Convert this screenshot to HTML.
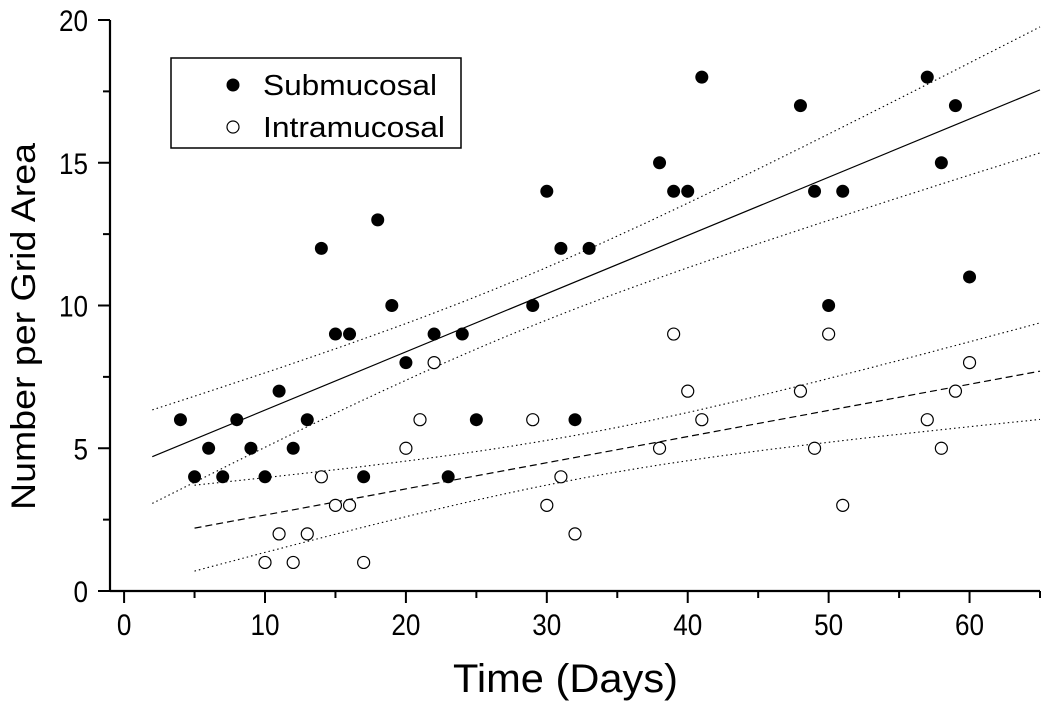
<!DOCTYPE html>
<html><head><meta charset="utf-8">
<style>
html,body{margin:0;padding:0;background:#fff;}
svg{display:block;font-family:"Liberation Sans",Arial,sans-serif;}
</style></head>
<body>
<svg id="chart" width="1050" height="702" viewBox="0 0 1050 702" xmlns="http://www.w3.org/2000/svg">
<g id="marks"></g>
<g id="axes"></g>
<rect x="171" y="58" width="290" height="90" fill="#fff" stroke="#000" stroke-width="1.5"/>
<circle cx="233" cy="85" r="6.5" fill="#000"/>
<text x="263" y="95" font-size="29" textLength="174" lengthAdjust="spacingAndGlyphs">Submucosal</text>
<circle cx="233" cy="127" r="6" fill="#fff" stroke="#000" stroke-width="1.2"/>
<text x="263" y="137" font-size="29" textLength="182" lengthAdjust="spacingAndGlyphs">Intramucosal</text>
<text x="453" y="692" font-size="40" textLength="225" lengthAdjust="spacingAndGlyphs">Time (Days)</text>
<text transform="translate(35,510) rotate(-90)" font-size="34" textLength="367" lengthAdjust="spacingAndGlyphs">Number per Grid Area</text>
</svg>
<script>
const subX = [4,5,6,7,8,9,10,11,12,13,14,15,16,17,18,19,20,22,23,24,25,29,30,31,32,33,38,39,40,41,48,49,50,51,57,58,59,60];
const subY = [6,4,5,4,6,5,4,7,5,6,12,9,9,4,13,10,8,9,4,9,6,10,14,12,6,12,15,14,14,18,17,14,10,14,18,15,17,11];
const intX = [10,11,12,13,14,15,16,17,20,21,22,29,30,31,32,38,39,40,41,48,49,50,51,57,58,59,60];
const intY = [1,2,1,2,4,3,3,1,5,6,8,6,3,4,2,5,9,7,6,7,5,9,3,6,5,7,8];
const xTicks = [0,10,20,30,40,50,60];
const yTicks = [0,5,10,15,20];
const fitRangeSub = [2,65];
const fitRangeInt = [5,65];

const NS = "http://www.w3.org/2000/svg";
const X0 = -1, X1 = 65, Y0 = 0, Y1 = 20;
const L = 110, R = 1040, B = 591, T = 20;
function sx(v){ return L + (v - X0) / (X1 - X0) * (R - L); }
function sy(v){ return B - (v - Y0) / (Y1 - Y0) * (B - T); }
function mk(tag, attrs, parent){
  const el = document.createElementNS(NS, tag);
  for (const k in attrs) el.setAttribute(k, attrs[k]);
  parent.appendChild(el); return el;
}
const marks = document.getElementById('marks');
const axes = document.getElementById('axes');

function tval(df){
  const tbl = {1:12.706,2:4.303,3:3.182,4:2.776,5:2.571,10:2.228,20:2.086,25:2.060,30:2.042,40:2.021,60:2.000};
  const keys = Object.keys(tbl).map(Number);
  let best = keys[0]; for (const k of keys) if (k <= df) best = k;
  return tbl[best];
}
function fit(xs, ys){
  const n = xs.length;
  const mx = xs.reduce((a,b)=>a+b,0)/n, my = ys.reduce((a,b)=>a+b,0)/n;
  let sxx=0, sxy=0;
  for (let i=0;i<n;i++){ sxx += (xs[i]-mx)**2; sxy += (xs[i]-mx)*(ys[i]-my); }
  const b = sxy/sxx, a = my - b*mx;
  let sse=0; for (let i=0;i<n;i++) sse += (ys[i]-a-b*xs[i])**2;
  const s = Math.sqrt(sse/(n-2));
  return {a,b,s,n,mx,sxx,t:tval(n-2)};
}
function drawFit(xs, ys, range, dash, name){
  const f = fit(xs, ys);
  const l = mk('line', {x1:sx(range[0]), y1:sy(f.a+f.b*range[0]), x2:sx(range[1]), y2:sy(f.a+f.b*range[1]), stroke:'#000', 'stroke-width':1.2, 'stroke-dasharray':dash}, marks);
  
  
  [1,-1].forEach(sg=>{
    let d = '';
    for (let k=0;k<=60;k++){
      const x = range[0] + (range[1]-range[0])*k/60;
      const se = f.s*Math.sqrt(1/f.n + (x-f.mx)**2/f.sxx);
      const y = f.a + f.b*x + sg*f.t*se;
      d += (k? 'L':'M') + sx(x).toFixed(1) + ',' + sy(y).toFixed(1);
    }
    const p = mk('path', {d, fill:'none', stroke:'#000', 'stroke-width':1.1, 'stroke-dasharray':'1.5,3'}, marks);
    
    
  });
}
drawFit(subX, subY, fitRangeSub, 'none', 'submucosal');
drawFit(intX, intY, fitRangeInt, '7,4', 'intramucosal');

subX.forEach((x,i)=>{
  const c = mk('circle', {cx:sx(x), cy:sy(subY[i]), r:6.5, fill:'#000'}, marks);
  
  
});
intX.forEach((x,i)=>{
  const c = mk('circle', {cx:sx(x), cy:sy(intY[i]), r:6, fill:'#fff', stroke:'#000', 'stroke-width':1.2}, marks);
  
  
});

const xa = mk('line', {x1:L, y1:B, x2:R, y2:B, stroke:'#000', 'stroke-width':2.2}, axes);


const ya = mk('line', {x1:L, y1:B+1, x2:L, y2:T, stroke:'#000', 'stroke-width':2.2}, axes);


for (let v=0; v<=65; v+=5){
  const major = v % 10 === 0;
  const t = mk('line', {x1:sx(v), y1:B, x2:sx(v), y2:B+(major?12:7), stroke:'#000', 'stroke-width':2}, axes);
  
  
}
xTicks.forEach(v=>{
  const t = mk('text', {transform:'translate(' + sx(v) + ',' + (B+44) + ') scale(0.87,1)', 'font-size':30, 'text-anchor':'middle'}, axes);
  t.textContent = v;
  
  
});
for (let v=0; v<=20; v+=2.5){
  const major = v % 5 === 0;
  const t = mk('line', {x1:L, y1:sy(v), x2:L-(major?12:7), y2:sy(v), stroke:'#000', 'stroke-width':2}, axes);
  
  
}
yTicks.forEach(v=>{
  const t = mk('text', {transform:'translate(' + (L-22) + ',' + (sy(v)+11) + ') scale(0.87,1)', 'font-size':30, 'text-anchor':'end'}, axes);
  t.textContent = v;
  
  
});
</script>
</body></html>
